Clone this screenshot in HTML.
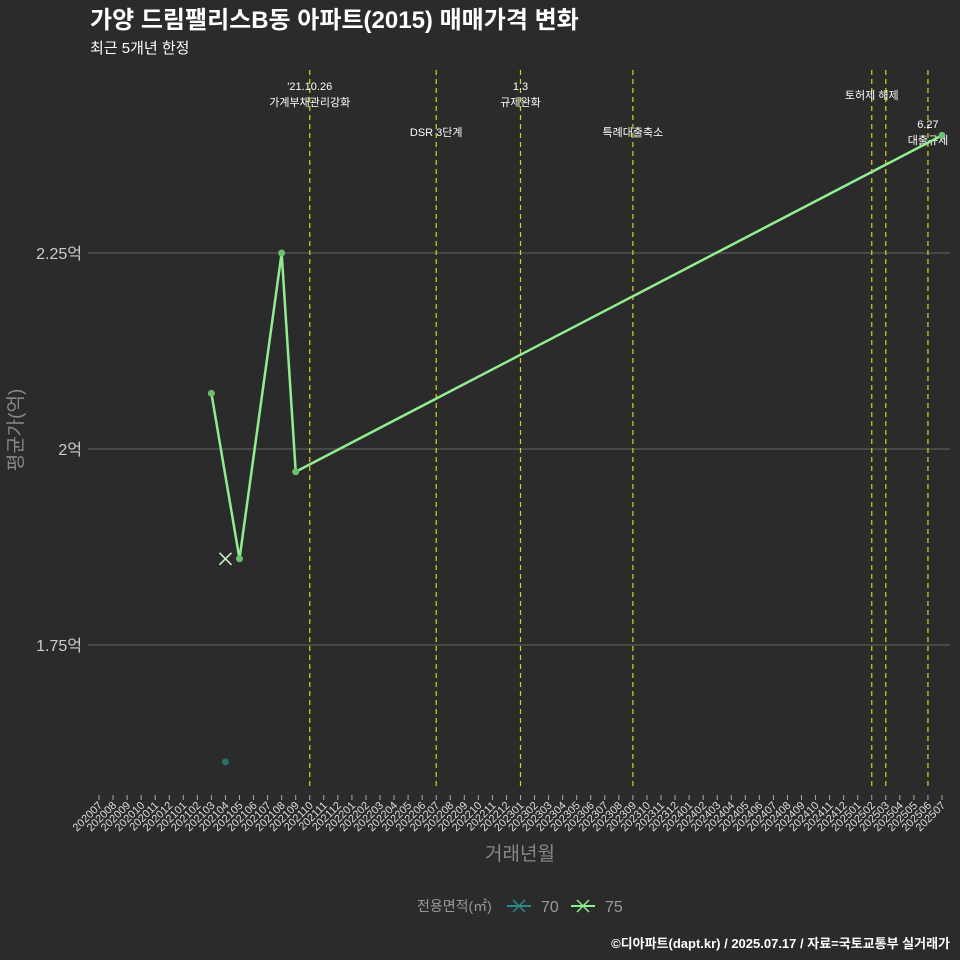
<!DOCTYPE html>
<html><head><meta charset="utf-8"><style>
html,body{margin:0;padding:0;background:#2b2b2b;overflow:hidden;width:960px;height:960px;}
svg{display:block;}
svg text{font-family:"Liberation Sans","Noto Sans CJK KR",sans-serif;}
</style></head><body>
<svg id="c" width="960" height="960" viewBox="0 0 960 960">
<rect width="960" height="960" fill="#2b2b2b"/>
<text x="90" y="28" font-size="24" font-weight="bold" fill="#fff">가양 드림팰리스B동 아파트(2015) 매매가격 변화</text>
<text x="90" y="53" font-size="15" fill="#fff">최근 5개년 한정</text>
<g id="grid"></g><g id="vlines"></g><g id="xaxis"></g><g id="series"></g>
<text transform="translate(22,430) rotate(-90)" text-anchor="middle" font-size="19" fill="#888">평균가(억)</text>
<text x="520" y="860" text-anchor="middle" font-size="19" fill="#888">거래년월</text>
<g>
<text x="417" y="911" font-size="14" fill="#999">전용면적(㎡)</text>
<g><line x1="507" y1="906" x2="531" y2="906" stroke="#2a8a8a" stroke-width="2"/><path d="M513 900l12 12M525 900l-12 12" stroke="#2a8a8a" stroke-width="1.5"/><text x="541" y="912" font-size="16" fill="#999">70</text></g>
<g><line x1="571" y1="906" x2="595" y2="906" stroke="#90ee90" stroke-width="2"/><path d="M577 900l12 12M589 900l-12 12" stroke="#90ee90" stroke-width="1.5"/><text x="605" y="912" font-size="16" fill="#999">75</text></g>
</g>
<text x="950" y="948" text-anchor="end" font-size="13" font-weight="bold" fill="#fff">©디아파트(dapt.kr) / 2025.07.17 / 자료=국토교통부 실거래가</text>
</svg>
<script>
const yTicks=[1.75,2.0,2.25];
const yLabels=["1.75억","2억","2.25억"];
const s75Months=["202103","202105","202108","202109","202507"];
const s75Values=[2.071,1.860,2.25,1.971,2.400];
const s70Months=["202104"];
const s70Values=[1.601];
const xMarkMonths=["202104"];
const xMarkValues=[1.86];
const eventMonths=["202110","202207","202301","202309","202502","202503","202506"];
const eventLabels=[["'21.10.26","가계부채관리강화"],["DSR 3단계"],["1.3","규제완화"],["특례대출축소"],["토허제 해제"],[],["6.27","대출규제"]];
const eventLabelY=[90,136,90,136,99,0,128];
const months=[];for(let y=2020;y<=2025;y++)for(let m=1;m<=12;m++){const k=y*100+m;if(k>=202007&&k<=202507)months.push(String(k));}
const NS="http://www.w3.org/2000/svg";
const xs=m=>99+months.indexOf(m)*(843/60);
const ys=v=>449-(v-2.0)*784;
function mk(t,a,p){const e=document.createElementNS(NS,t);for(const k in a)e.setAttribute(k,a[k]);p.appendChild(e);return e;}
const grid=document.getElementById('grid');
yTicks.forEach((v,i)=>{
 const l=mk('line',{x1:88,x2:950,y1:ys(v),y2:ys(v),stroke:'#5a5a5a','stroke-width':1.2},grid);
 
 const t=mk('text',{x:82,y:ys(v)+6,'text-anchor':'end','font-size':16,fill:'#ccc'},grid);t.textContent=yLabels[i];
 
});
const vl=document.getElementById('vlines');
eventMonths.forEach((m,i)=>{
 const x=xs(m);
 const l=mk('line',{x1:x,x2:x,y1:70,y2:790,stroke:'#d4d420','stroke-width':1.2,'stroke-dasharray':'5,4'},vl);
 
 eventLabels[i].forEach((s,j)=>{const t=mk('text',{x:x,y:eventLabelY[i]+j*16,'text-anchor':'middle','font-size':11,fill:'#fff'},vl);t.textContent=s;
 });
});
const xa=document.getElementById('xaxis');
months.forEach(m=>{const x=xs(m);
 mk('line',{x1:x,x2:x,y1:795,y2:800,stroke:'#aaa'},xa);
 const t=mk('text',{x:0,y:0,transform:`translate(${x+4},${806}) rotate(-45)`,'text-anchor':'end','font-size':11,fill:'#ddd'},xa);t.textContent=m;
 
});
const sg=document.getElementById('series');
const pl=mk('polyline',{points:s75Months.map((m,i)=>xs(m)+','+ys(s75Values[i])).join(' '),fill:'none',stroke:'#90ee90','stroke-width':2.5},sg);

s75Months.forEach((m,i)=>{const c=mk('circle',{cx:xs(m),cy:ys(s75Values[i]),r:3.5,fill:'#6cbf6c'},sg);
 });
s70Months.forEach((m,i)=>{const c=mk('circle',{cx:xs(m),cy:ys(s70Values[i]),r:3.5,fill:'#2a6e6a'},sg);
 });
xMarkMonths.forEach((m,i)=>{const x=xs(m),y=ys(xMarkValues[i]);
 const p=mk('path',{d:`M${x-6} ${y-6}l12 12M${x+6} ${y-6}l-12 12`,stroke:'#c8f0c8','stroke-width':1.6},sg);
 });
</script>
</body></html>
